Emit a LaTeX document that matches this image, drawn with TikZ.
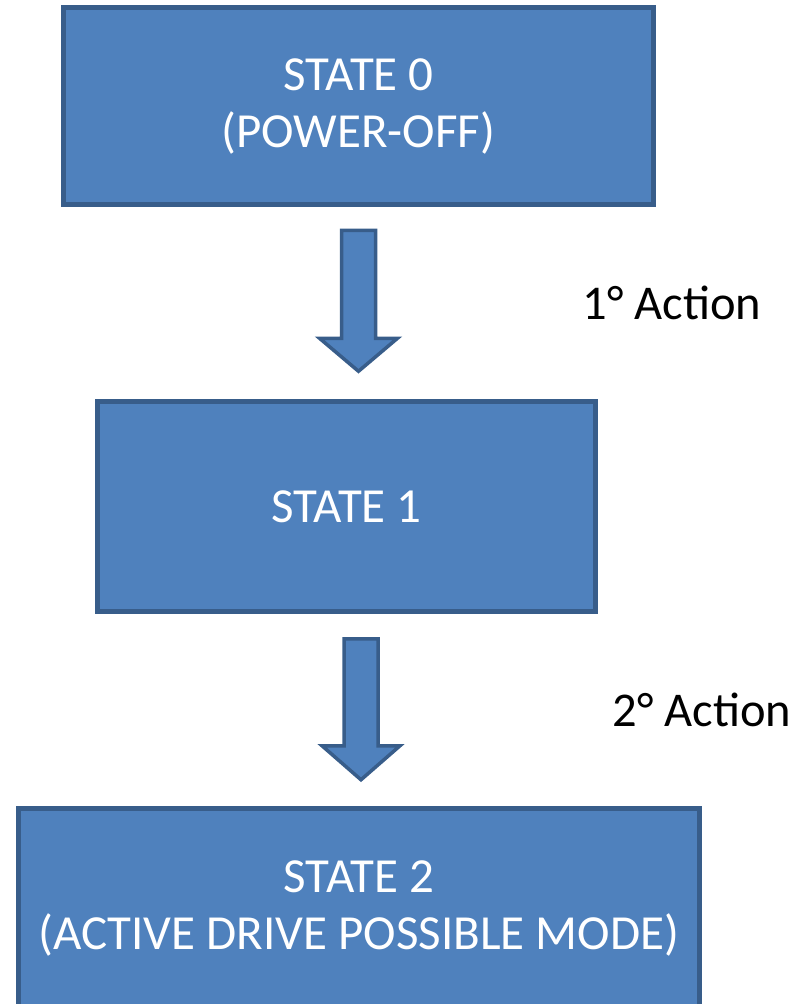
\documentclass[tikz,border=0pt]{standalone}
\usepackage{fontspec}
\setmainfont{Carlito}
\usepackage{tikz}
\usetikzlibrary{calc, positioning}
\definecolor{stateblue}{HTML}{4F81BD}
\definecolor{stateborder}{HTML}{385D8A}
\tikzset{
    statenode/.style = {draw=stateborder, fill=stateblue, rectangle, line width=4.5pt,
      text=white, inner sep=0pt, align=center, font=\fontsize{49}{57}\selectfont},
    actiontext/.style = {draw=none, fill=none, inner sep=0pt, text=black,
      font=\fontsize{48.5}{57}\selectfont},
    blockarrow/.style = {draw=stateborder, fill=stateblue, line width=3.5pt, line join=miter}
}

\begin{document}
\begin{tikzpicture}[x=1pt, y=-1pt]
    \useasboundingbox (0,0) rectangle (802,1004);
    \node [statenode, name=state0, minimum width=590pt, minimum height=197pt] at (358.5,106)
        {STATE 0\\(POWER-OFF)};
    \node [statenode, name=state1, minimum width=498pt, minimum height=210pt] at (346.5,506.5)
        {STATE 1};
    \node [statenode, name=state2, minimum width=681pt, minimum height=200pt] at (359,908.5)
        {STATE 2\\(ACTIVE DRIVE POSSIBLE MODE)};

    % block arrows between the states
    \draw [blockarrow] ($(state0.south)+(-17,23.5)$) -- ++(0,108) -- ++(-22,0)
        -- ++(39,33) -- ++(39,-33) -- ++(-22,0) -- ++(0,-108) -- cycle;
    \draw [blockarrow] ($(state1.south)+(-2.5,25)$) -- ++(0,107) -- ++(-22,0)
        -- ++(39,34) -- ++(39,-34) -- ++(-22,0) -- ++(0,-107) -- cycle;

    \node [actiontext, name=action1] at (672,303) {1° Action};
    \node [actiontext, name=action2] at (702,710) {2° Action};
\end{tikzpicture}
\end{document}
